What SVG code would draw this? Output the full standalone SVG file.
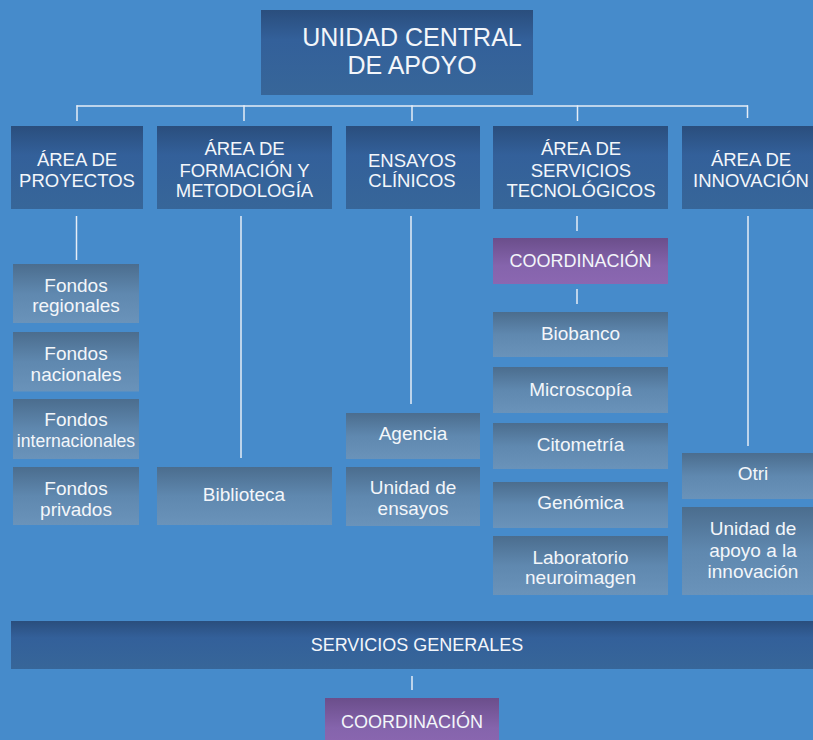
<svg xmlns="http://www.w3.org/2000/svg" width="813" height="740" viewBox="0 0 813 740">
<defs>
<linearGradient id="gDark" x1="0" y1="0" x2="0" y2="1">
<stop offset="0" stop-color="#2A4E7D"/><stop offset="0.35" stop-color="#33609A"/><stop offset="1" stop-color="#376699"/>
</linearGradient>
<linearGradient id="gLight" x1="0" y1="0" x2="0" y2="1">
<stop offset="0" stop-color="#4B6D8E"/><stop offset="0.5" stop-color="#5F88AF"/><stop offset="1" stop-color="#6A93BA"/>
</linearGradient>
<linearGradient id="gPurple" x1="0" y1="0" x2="0" y2="1">
<stop offset="0" stop-color="#6B4E8B"/><stop offset="0.6" stop-color="#8564AC"/><stop offset="1" stop-color="#8B67B1"/>
</linearGradient>
<style>
.dark{fill:url(#gDark)}
.light{fill:url(#gLight)}
.purple{fill:url(#gPurple)}
text{font-family:"Liberation Sans",Arial,sans-serif;fill:#F3F6FA;text-anchor:middle}
.t1{font-size:25px}
.t2{font-size:18.5px}
.t3{font-size:19px}
.t4{font-size:18px}
.conn line{stroke:#E6EDF6;stroke-width:1.5;fill:none}
</style>
</defs>
<rect x="0" y="0" width="813" height="740" fill="#468BCB"/>
<g id="connectors" class="conn">
<line x1="76.5" y1="106" x2="748" y2="106"/>
<line x1="77" y1="105.3" x2="77" y2="121"/>
<line x1="244" y1="105.3" x2="244" y2="121"/>
<line x1="412" y1="105.3" x2="412" y2="121"/>
<line x1="577.5" y1="105.3" x2="577.5" y2="121"/>
<line x1="747.5" y1="105.3" x2="747.5" y2="118"/>
<line x1="76.5" y1="216" x2="76.5" y2="260"/>
<line x1="241" y1="216" x2="241" y2="458"/>
<line x1="411" y1="216" x2="411" y2="404"/>
<line x1="577" y1="216" x2="577" y2="231"/>
<line x1="577" y1="289" x2="577" y2="304"/>
<line x1="748" y1="216" x2="748" y2="446"/>
<line x1="412" y1="676" x2="412" y2="690"/>
</g>
<g id="n-unidad-central"><rect class="dark" x="261" y="10" width="272" height="85"/>
<text class="t1" x="412" y="46">UNIDAD CENTRAL</text><text class="t1" x="412" y="74">DE APOYO</text></g>
<g id="n-proyectos"><rect class="dark" x="11" y="126" width="132" height="83"/>
<text class="t2" x="77" y="166">ÁREA DE</text><text class="t2" x="77" y="187">PROYECTOS</text></g>
<g id="n-formacion"><rect class="dark" x="157" y="126" width="175" height="83"/>
<text class="t2" x="244.5" y="155">ÁREA DE</text><text class="t2" x="244.5" y="176.5">FORMACIÓN Y</text><text class="t2" x="244.5" y="197">METODOLOGÍA</text></g>
<g id="n-ensayos"><rect class="dark" x="346" y="126" width="134" height="83"/>
<text class="t2" x="412" y="166.5">ENSAYOS</text><text class="t2" x="412" y="187">CLÍNICOS</text></g>
<g id="n-servicios-tec"><rect class="dark" x="493" y="126" width="175" height="83"/>
<text class="t2" x="581" y="155">ÁREA DE</text><text class="t2" x="581" y="176.5">SERVICIOS</text><text class="t2" x="581" y="197">TECNOLÓGICOS</text></g>
<g id="n-innovacion"><rect class="dark" x="682" y="126" width="140" height="83"/>
<text class="t2" x="751" y="166">ÁREA DE</text><text class="t2" x="751" y="187">INNOVACIÓN</text></g>
<g id="n-fondos-regionales"><rect class="light" x="13" y="264" width="126" height="59"/>
<text class="t3" x="76" y="291.5">Fondos</text><text class="t3" x="76" y="312">regionales</text></g>
<g id="n-fondos-nacionales"><rect class="light" x="13" y="332" width="126" height="59.5"/>
<text class="t3" x="76" y="360">Fondos</text><text class="t3" x="76" y="380.5">nacionales</text></g>
<g id="n-fondos-internacionales"><rect class="light" x="13" y="399" width="126" height="60"/>
<text class="t3" x="76" y="425.5">Fondos</text><text class="t3" x="76" y="446.5" style="font-size:17.6px">internacionales</text></g>
<g id="n-fondos-privados"><rect class="light" x="13" y="467" width="126" height="58"/>
<text class="t3" x="76" y="495">Fondos</text><text class="t3" x="76" y="516">privados</text></g>
<g id="n-biblioteca"><rect class="light" x="157" y="467" width="175" height="58"/>
<text class="t3" x="244" y="500.5">Biblioteca</text></g>
<g id="n-agencia"><rect class="light" x="346" y="413" width="134" height="46"/>
<text class="t3" x="413" y="439.5">Agencia</text></g>
<g id="n-unidad-ensayos"><rect class="light" x="346" y="467" width="134" height="59"/>
<text class="t3" x="413" y="494">Unidad de</text><text class="t3" x="413" y="515">ensayos</text></g>
<g id="n-coordinacion-1"><rect class="purple" x="493" y="238" width="175" height="46"/>
<text class="t4" x="580.5" y="267">COORDINACIÓN</text></g>
<g id="n-biobanco"><rect class="light" x="493" y="312" width="175" height="45"/>
<text class="t3" x="580.5" y="339.5">Biobanco</text></g>
<g id="n-microscopia"><rect class="light" x="493" y="367" width="175" height="46"/>
<text class="t3" x="580.5" y="395.5">Microscopía</text></g>
<g id="n-citometria"><rect class="light" x="493" y="423" width="175" height="46"/>
<text class="t3" x="580.5" y="451">Citometría</text></g>
<g id="n-genomica"><rect class="light" x="493" y="482" width="175" height="46"/>
<text class="t3" x="580.5" y="509">Genómica</text></g>
<g id="n-laboratorio"><rect class="light" x="493" y="536" width="175" height="59"/>
<text class="t3" x="580.5" y="563.5">Laboratorio</text><text class="t3" x="580.5" y="584">neuroimagen</text></g>
<g id="n-otri"><rect class="light" x="682" y="453" width="140" height="46"/>
<text class="t3" x="753" y="480">Otri</text></g>
<g id="n-unidad-apoyo"><rect class="light" x="682" y="507" width="140" height="88"/>
<text class="t3" x="753" y="535">Unidad de</text><text class="t3" x="753" y="556.5">apoyo a la</text><text class="t3" x="753" y="577.5">innovación</text></g>
<g id="n-servicios-generales"><rect class="dark" x="11" y="621" width="810" height="48"/>
<text class="t4" x="417" y="651">SERVICIOS GENERALES</text></g>
<g id="n-coordinacion-2"><rect class="purple" x="325" y="698" width="174" height="50"/>
<text class="t4" x="412" y="728">COORDINACIÓN</text></g>
</svg>
